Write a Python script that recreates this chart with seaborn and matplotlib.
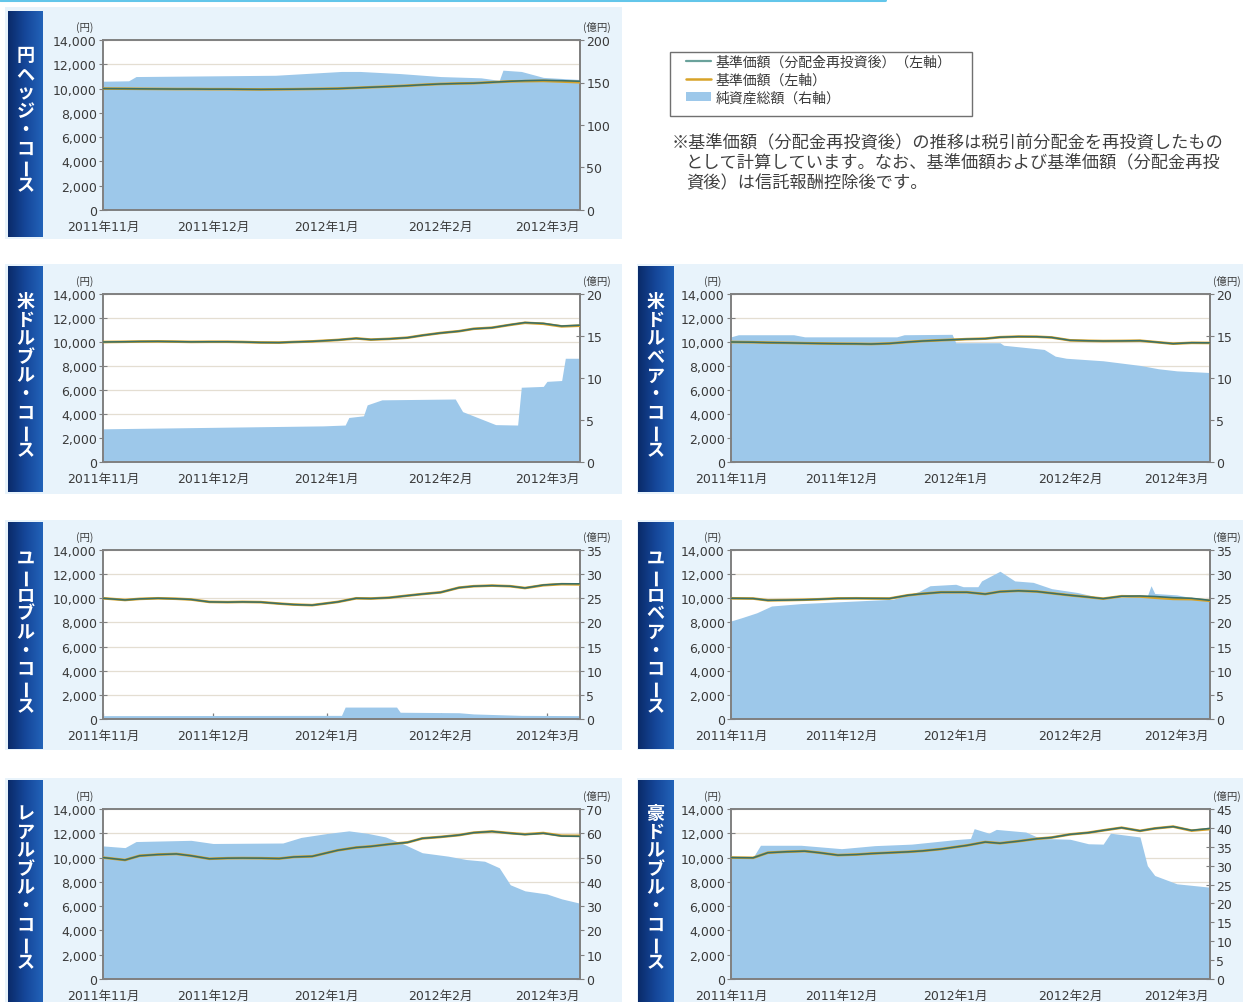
import numpy as np
import pandas as pd
import matplotlib
matplotlib.use("Agg")
import matplotlib.pyplot as plt
from matplotlib.patches import Rectangle, Patch
from matplotlib.lines import Line2D
from matplotlib.colors import LinearSegmentedColormap
import seaborn as sns

sns.set_theme(style="white")
plt.rcParams["font.family"] = ["Noto Sans CJK JP", "DejaVu Sans"]
TICK_FONT = ["DejaVu Sans", "Noto Sans CJK JP"]

# ---------------- data ----------------
line_dates = ['2011-11-01', '2011-11-07', '2011-11-11', '2011-11-16', '2011-11-21', '2011-11-25',
              '2011-11-30', '2011-12-05', '2011-12-09', '2011-12-14', '2011-12-19', '2011-12-23',
              '2011-12-28', '2012-01-04', '2012-01-09', '2012-01-13', '2012-01-18', '2012-01-23',
              '2012-01-27', '2012-02-01', '2012-02-06', '2012-02-10', '2012-02-15', '2012-02-20',
              '2012-02-24', '2012-02-29', '2012-03-05', '2012-03-10']

# 円ヘッジ・コース
yen_nav_re = [10000, 9990, 9980, 9970, 9960, 9960, 9950, 9950, 9940, 9930, 9940, 9950, 9970, 10000,
              10060, 10110, 10170, 10240, 10310, 10380, 10420, 10440, 10520, 10600, 10650, 10680, 10650, 10600]
yen_nav = [10000, 9990, 9980, 9970, 9960, 9960, 9950, 9950, 9940, 9930, 9940, 9950, 9970, 10000,
           10060, 10110, 10170, 10240, 10310, 10380, 10420, 10440, 10520, 10590, 10610, 10630, 10580, 10520]
yen_area_dates = ['2011-11-01', '2011-11-08', '2011-11-10', '2011-12-18', '2012-01-05', '2012-01-10',
                  '2012-01-21', '2012-02-01', '2012-02-12', '2012-02-17', '2012-02-18', '2012-02-23',
                  '2012-02-29', '2012-03-10']
yen_area = [151.5, 152, 157, 158.5, 163, 163, 160.5, 157, 155.5, 152.5, 164.5, 163, 156, 153.5]

# 米ドルブル・コース
usdbull_nav_re = [10000, 10020, 10040, 10050, 10030, 10010, 10020, 10020, 10000, 9960, 9950, 10000, 10050,
                  10170, 10300, 10200, 10260, 10360, 10550, 10750, 10900, 11100, 11190, 11440, 11620, 11550,
                  11330, 11400]
usdbull_nav = [10000, 10020, 10040, 10050, 10030, 10010, 10020, 10020, 10000, 9960, 9950, 10000, 10050,
               10170, 10300, 10200, 10260, 10360, 10550, 10750, 10900, 11100, 11190, 11430, 11600, 11520,
               11300, 11360]
usdbull_area_dates = ['2011-11-01', '2011-12-31', '2012-01-06', '2012-01-07', '2012-01-11', '2012-01-12',
                      '2012-01-16', '2012-02-05', '2012-02-07', '2012-02-16', '2012-02-22', '2012-02-23',
                      '2012-02-29', '2012-03-01', '2012-03-05', '2012-03-06', '2012-03-10']
usdbull_area = [3.95, 4.3, 4.4, 5.3, 5.5, 6.8, 7.4, 7.5, 6.0, 4.45, 4.4, 8.9, 9.0, 9.6, 9.7, 12.35, 12.35]

# 米ドルベア・コース
usdbear_nav_re = [10000, 9980, 9950, 9930, 9900, 9880, 9860, 9850, 9830, 9880, 10000, 10080, 10150,
                  10240, 10280, 10400, 10450, 10440, 10380, 10140, 10100, 10080, 10090, 10110, 10000, 9860,
                  9940, 9930]
usdbear_nav = [10000, 9980, 9950, 9930, 9900, 9880, 9860, 9850, 9830, 9880, 10000, 10080, 10150,
               10240, 10280, 10400, 10450, 10440, 10380, 10140, 10100, 10080, 10090, 10110, 10000, 9860,
               9930, 9920]
usdbear_area_dates = ['2011-11-01', '2011-11-03', '2011-11-18', '2011-11-21', '2011-12-16', '2011-12-18',
                      '2011-12-31', '2012-01-01', '2012-01-13', '2012-01-14', '2012-01-25', '2012-01-28',
                      '2012-01-31', '2012-02-10', '2012-02-20', '2012-02-25', '2012-03-01', '2012-03-10']
usdbear_area = [14.9, 15.15, 15.15, 14.9, 14.9, 15.15, 15.2, 14.2, 14.2, 13.9, 13.4, 12.6, 12.35, 12.05,
                11.5, 11.1, 10.85, 10.65]

# ユーロブル・コース
eurbull_nav_re = [10000, 9860, 9950, 10000, 9960, 9900, 9700, 9680, 9700, 9680, 9560, 9480, 9430, 9700,
                  10000, 9980, 10050, 10220, 10350, 10490, 10880, 11000, 11050, 11000, 10850, 11100, 11200, 11200]
eurbull_nav = [10000, 9860, 9950, 10000, 9960, 9900, 9700, 9680, 9700, 9680, 9560, 9480, 9430, 9700,
               10000, 9980, 10050, 10220, 10350, 10490, 10880, 11000, 11050, 11000, 10850, 11080, 11170, 11150]
eurbull_area_dates = ['2011-11-01', '2012-01-05', '2012-01-06', '2012-01-20', '2012-01-21', '2012-02-06',
                      '2012-02-10', '2012-02-23', '2012-03-10']
eurbull_area = [0.7, 0.75, 2.47, 2.47, 1.4, 1.3, 1.05, 0.75, 0.7]

# ユーロベア・コース
eurbear_nav_re = [10000, 9980, 9830, 9850, 9880, 9920, 9990, 10000, 9990, 9980, 10250, 10380, 10500,
                  10500, 10350, 10550, 10620, 10560, 10420, 10250, 10100, 9970, 10170, 10190, 10150, 10050,
                  10000, 9830]
eurbear_nav = [10000, 9980, 9830, 9850, 9880, 9920, 9990, 10000, 9990, 9980, 10250, 10380, 10500,
               10500, 10350, 10550, 10620, 10560, 10420, 10250, 10100, 9970, 10170, 10150, 10050, 9950,
               9930, 9790]
eurbear_area_dates = ['2011-11-01', '2011-11-04', '2011-11-08', '2011-11-10', '2011-11-12', '2011-11-20',
                      '2011-12-01', '2011-12-15', '2011-12-22', '2011-12-25', '2012-01-01', '2012-01-03',
                      '2012-01-07', '2012-01-08', '2012-01-13', '2012-01-17', '2012-01-22', '2012-01-27',
                      '2012-02-03', '2012-02-10', '2012-02-20', '2012-02-22', '2012-02-23', '2012-02-24',
                      '2012-03-01', '2012-03-10']
eurbear_area = [20.3, 21.0, 22.0, 22.7, 23.4, 23.9, 24.3, 24.8, 26.4, 27.6, 27.9, 27.4, 27.4, 28.6, 30.6,
                28.6, 28.3, 27.0, 26.2, 25.0, 25.5, 25.5, 27.6, 26.0, 25.7, 24.4]

# レアルブル・コース
brl_nav_re = [10000, 9800, 10150, 10250, 10300, 10150, 9900, 9950, 9960, 9950, 9920, 10050, 10100, 10600,
              10830, 10920, 11100, 11250, 11580, 11700, 11850, 12050, 12150, 12000, 11900, 12000, 11770, 11750]
brl_nav = [10000, 9800, 10150, 10250, 10300, 10150, 9900, 9950, 9960, 9950, 9920, 10050, 10100, 10600,
           10830, 10920, 11100, 11250, 11580, 11700, 11850, 12050, 12150, 12010, 11920, 12020, 11800, 11790]
brl_area_dates = ['2011-11-01', '2011-11-07', '2011-11-10', '2011-11-25', '2011-12-01', '2011-12-20',
                  '2011-12-25', '2012-01-01', '2012-01-07', '2012-01-12', '2012-01-17', '2012-01-22',
                  '2012-01-27', '2012-02-03', '2012-02-08', '2012-02-13', '2012-02-17', '2012-02-20',
                  '2012-02-24', '2012-03-01', '2012-03-05', '2012-03-10']
brl_area = [54.8, 54.1, 56.6, 57.1, 55.8, 56.0, 58.3, 59.9, 61.0, 60.0, 58.5, 55.5, 52.0, 50.6, 49.2,
            48.5, 45.8, 38.8, 36.3, 35.0, 33.0, 31.2]

# 豪ドルブル・コース
aud_nav_re = [10000, 9980, 10400, 10480, 10530, 10400, 10200, 10250, 10330, 10400, 10470, 10550, 10700,
              11000, 11280, 11180, 11350, 11550, 11650, 11910, 12050, 12240, 12460, 12200, 12400, 12550,
              12240, 12400]
aud_nav = [10000, 9980, 10400, 10480, 10530, 10400, 10200, 10250, 10330, 10400, 10470, 10550, 10700,
           11000, 11280, 11180, 11350, 11550, 11650, 11910, 12050, 12240, 12460, 12200, 12400, 12550,
           12220, 12350]
aud_area_dates = ['2011-11-01', '2011-11-07', '2011-11-09', '2011-11-20', '2011-12-01', '2011-12-10',
                  '2011-12-20', '2012-01-01', '2012-01-05', '2012-01-06', '2012-01-10', '2012-01-12',
                  '2012-01-20', '2012-01-24', '2012-02-01', '2012-02-06', '2012-02-10', '2012-02-12',
                  '2012-02-20', '2012-02-22', '2012-02-24', '2012-03-01', '2012-03-10']
aud_area = [32.5, 32.2, 35.4, 35.4, 34.5, 35.3, 35.7, 36.9, 37.2, 39.8, 38.6, 39.6, 38.9, 37.2, 37.0,
            35.8, 35.7, 38.6, 37.6, 30.0, 27.4, 25.2, 24.3]

left_ticks = [0, 2000, 4000, 6000, 8000, 10000, 12000, 14000]
month_ticks = ['2011-11-01', '2011-12-01', '2012-01-01', '2012-02-01', '2012-03-01']
month_labels = ['2011年11月', '2011年12月', '2012年1月', '2012年2月', '2012年3月']

legend_labels = ['基準価額（分配金再投資後）（左軸）', '基準価額（左軸）', '純資産総額（右軸）']
note_lines = ['※基準価額（分配金再投資後）の推移は税引前分配金を再投資したもの',
              'として計算しています。なお、基準価額および基準価額（分配金再投',
              '資後）は信託報酬控除後です。']

panels = [
    dict(title='円ヘッジ・コース', nav_re=yen_nav_re, nav=yen_nav, ad=yen_area_dates, av=yen_area,
         rmax=200, rstep=50, col=0, row=0),
    dict(title='米ドルブル・コース', nav_re=usdbull_nav_re, nav=usdbull_nav, ad=usdbull_area_dates,
         av=usdbull_area, rmax=20, rstep=5, col=0, row=1),
    dict(title='米ドルベア・コース', nav_re=usdbear_nav_re, nav=usdbear_nav, ad=usdbear_area_dates,
         av=usdbear_area, rmax=20, rstep=5, col=1, row=1),
    dict(title='ユーロブル・コース', nav_re=eurbull_nav_re, nav=eurbull_nav, ad=eurbull_area_dates,
         av=eurbull_area, rmax=35, rstep=5, col=0, row=2),
    dict(title='ユーロベア・コース', nav_re=eurbear_nav_re, nav=eurbear_nav, ad=eurbear_area_dates,
         av=eurbear_area, rmax=35, rstep=5, col=1, row=2),
    dict(title='レアルブル・コース', nav_re=brl_nav_re, nav=brl_nav, ad=brl_area_dates,
         av=brl_area, rmax=70, rstep=10, col=0, row=3),
    dict(title='豪ドルブル・コース', nav_re=aud_nav_re, nav=aud_nav, ad=aud_area_dates,
         av=aud_area, rmax=45, rstep=5, col=1, row=3),
]

# ---------------- style / layout ----------------
W, H = 1243, 1003
C_BG = '#e8f3fb'
C_AREA = '#9dc8ea'
C_TEAL = '#3a7068'
C_ORANGE = '#d8a328'
C_SPINE = '#808080'
C_TXT = '#3a3a3a'

cols = {0: dict(bg=(5, 622), lab=(8, 43), ax=(103, 580)),
        1: dict(bg=(637, 1243), lab=(638, 673), ax=(731, 1210))}
rows = {0: dict(bg=(8, 240), lab=(12, 238), ax=(41, 211)),
        1: dict(bg=(265, 495), lab=(267, 493), ax=(295, 463)),
        2: dict(bg=(521, 751), lab=(523, 750), ax=(551, 720)),
        3: dict(bg=(779, 1003), lab=(781, 1003), ax=(810, 980))}


def frect(x0, x1, y0, y1):
    return [x0 / W, 1 - y1 / H, (x1 - x0) / W, (y1 - y0) / H]


fig = plt.figure(figsize=(W / 100, H / 100), dpi=100)
fig.patch.set_facecolor('white')

# top thin cyan rule
fig.add_artist(Line2D([0, 885 / W], [1 - 1.2 / H, 1 - 1.2 / H], transform=fig.transFigure,
                      color='#63c6ea', lw=2.2))

lab_cmap = LinearSegmentedColormap.from_list('lab', ['#0a2b6a', '#15479a', '#2262b8'])
xmin, xmax = pd.Timestamp('2011-11-01'), pd.Timestamp('2012-03-10')
ldates = pd.to_datetime(line_dates)

for p in panels:
    c, r = cols[p['col']], rows[p['row']]
    # panel background
    fig.add_artist(Rectangle((c['bg'][0] / W, 1 - r['bg'][1] / H),
                             (c['bg'][1] - c['bg'][0]) / W, (r['bg'][1] - r['bg'][0]) / H,
                             transform=fig.transFigure, facecolor=C_BG, edgecolor='none', zorder=0))
    # label box with gradient
    lax = fig.add_axes(frect(c['lab'][0], c['lab'][1], r['lab'][0], r['lab'][1]))
    lax.imshow(np.linspace(0, 1, 64).reshape(1, -1), aspect='auto', cmap=lab_cmap,
               extent=[0, 1, 0, 1])
    lax.set_xlim(0, 1)
    lax.set_ylim(0, 1)
    lax.axis('off')
    chars = list(p['title'])
    step = 18.6
    hbox = r['lab'][1] - r['lab'][0]
    ctr = hbox / 2 - 4
    start = ctr - (len(chars) - 1) * step / 2
    for i, ch in enumerate(chars):
        ypix = start + i * step
        rot = 90 if ch == 'ー' else 0
        lax.text(0.5, 1 - ypix / hbox, ch, transform=lax.transAxes, ha='center', va='center',
                 color='white', fontsize=13, fontweight='bold', rotation=rot)

    # main axes
    ax = fig.add_axes(frect(c['ax'][0], c['ax'][1], r['ax'][0], r['ax'][1]))
    ax.set_facecolor('white')
    k = 14000.0 / p['rmax']
    adates = pd.to_datetime(p['ad'])
    ax.fill_between(adates, np.asarray(p['av']) * k, 0, color=C_AREA, lw=0, zorder=2)
    sns.lineplot(x=ldates, y=p['nav'], ax=ax, color=C_ORANGE, lw=1.9, zorder=3, legend=False)
    sns.lineplot(x=ldates, y=p['nav_re'], ax=ax, color=C_TEAL, lw=1.15, zorder=4, legend=False)

    ax.set_xlim(xmin, xmax)
    ax.set_ylim(0, 14000)
    ax.set_yticks(left_ticks)
    ax.set_yticklabels([f'{v:,}' for v in left_ticks], family=TICK_FONT)
    ax.set_xticks(pd.to_datetime(month_ticks))
    ax.set_xticklabels(month_labels, family=TICK_FONT)
    ax.set_xlabel('')
    ax.set_ylabel('')
    ax.set_axisbelow(True)
    ax.yaxis.grid(True, color='#e4ded2', lw=0.9)
    ax.xaxis.grid(False)
    for s in ax.spines.values():
        s.set_color(C_SPINE)
        s.set_linewidth(1.4)
        s.set_visible(True)
    ax.tick_params(axis='y', which='major', direction='inout', length=6, width=0.8, color=C_SPINE,
                   labelsize=9, labelcolor=C_TXT, pad=1.5, left=True)
    ax.tick_params(axis='x', which='major', direction='in', length=4, width=0.9, color=C_SPINE,
                   labelsize=9, labelcolor=C_TXT, pad=7.5, bottom=True)

    sec = ax.secondary_yaxis('right', functions=(lambda y, k=k: y / k, lambda y, k=k: y * k))
    sec.set_yticks(np.arange(0, p['rmax'] + 1, p['rstep']))
    sec.tick_params(direction='inout', length=6, width=0.8, color=C_SPINE, labelsize=9,
                    labelcolor=C_TXT, pad=1.5)
    for t in sec.get_yticklabels():
        t.set_family(TICK_FONT)
    sec.spines['right'].set_color(C_SPINE)
    sec.spines['right'].set_linewidth(1.4)

    ax.annotate('(円)', xy=(0, 1), xycoords='axes fraction', xytext=(-13, 10),
                textcoords='offset points', ha='center', va='center', fontsize=7.5, color=C_TXT)
    ax.annotate('(億円)', xy=(1, 1), xycoords='axes fraction', xytext=(12.5, 10),
                textcoords='offset points', ha='center', va='center', fontsize=7.5, color=C_TXT)

# legend: frame drawn as a rectangle, entries via fig.legend
fig.add_artist(Rectangle((670 / W, 1 - 117 / H), 302 / W, 64 / H, transform=fig.transFigure,
                         facecolor='white', edgecolor='#707070', lw=1.0, zorder=1))
handles = [Line2D([], [], color='#6aa29b', lw=1.6),
           Line2D([], [], color=C_ORANGE, lw=1.8),
           Patch(facecolor=C_AREA, edgecolor='none')]
leg = fig.legend(handles, legend_labels, loc='upper left',
                 bbox_to_anchor=(686 / W, 1 - 56 / H), bbox_transform=fig.transFigure,
                 frameon=False, fontsize=10, handlelength=1.8, handleheight=0.6,
                 labelspacing=0.28, borderpad=0.0, handletextpad=0.35, borderaxespad=0)
leg.set_zorder(2)
for t in leg.get_texts():
    t.set_color(C_TXT)

# note text
note_pos = [(672, 143), (686, 163), (686, 183)]
for (x, y), txt in zip(note_pos, note_lines):
    fig.text(x / W, 1 - y / H, txt, ha='left', va='center', fontsize=12.4, color='#404040')

fig.savefig('out.png', dpi=100, facecolor='white')
